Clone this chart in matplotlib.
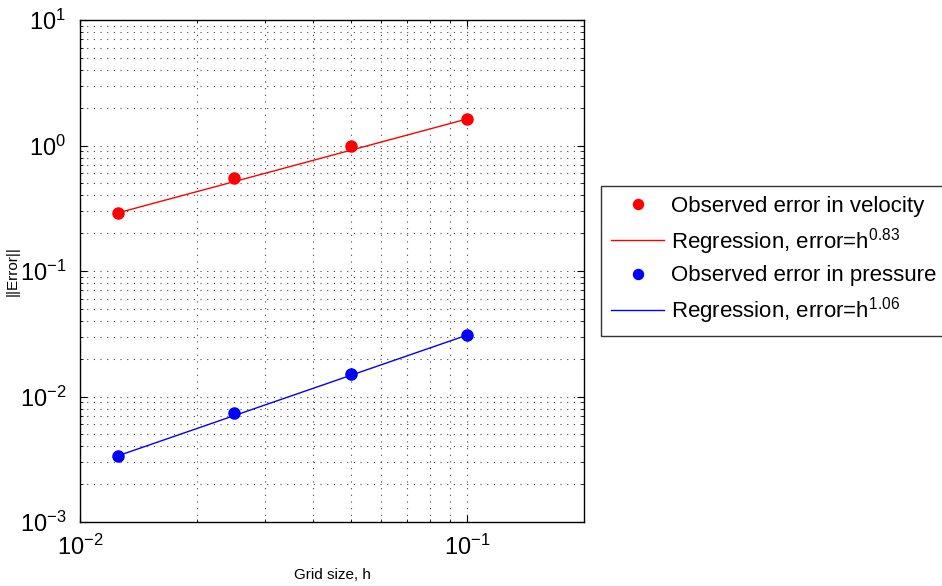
import matplotlib
matplotlib.use("Agg")
import matplotlib.pyplot as plt
from matplotlib.ticker import LogLocator, NullFormatter

plt.rcParams['font.family'] = ['Liberation Sans', 'DejaVu Sans']
plt.rcParams['mathtext.fontset'] = 'custom'
plt.rcParams['mathtext.rm'] = 'Liberation Sans'

h = [0.0125, 0.025, 0.05, 0.1]
err_vel = [0.29, 0.55, 0.99, 1.63]
err_pres = [0.00336, 0.0074, 0.0152, 0.0309]

# regression line end values
reg_h = [0.0125, 0.1]
reg_vel = [0.29, 1.63]
reg_pres = [0.00336, 0.0309]
exp_vel = "0.83"
exp_pres = "1.06"

fig = plt.figure(figsize=(9.42, 5.86), dpi=100)
ax = fig.add_axes([80/942, 64/586, 504/942, 502/586])

ax.plot(h, err_vel, 'o', color='red', markersize=8, label='Observed error in velocity')
ax.plot(reg_h, reg_vel, '-', color='red', linewidth=1, label='Regression, error=h$^{' + exp_vel + '}$')
ax.plot(h, err_pres, 'o', color='blue', markersize=8, label='Observed error in pressure')
ax.plot(reg_h, reg_pres, '-', color='blue', linewidth=1, label='Regression, error=h$^{' + exp_pres + '}$')

ax.set_xscale('log')
ax.set_yscale('log')
ax.set_xlim(0.01, 0.2)
ax.set_ylim(1e-3, 10)
ax.yaxis.set_major_locator(LogLocator(base=10, numticks=10))
ax.yaxis.set_minor_locator(LogLocator(base=10, subs=range(2, 10), numticks=20))
ax.xaxis.set_minor_locator(LogLocator(base=10, subs=range(2, 10), numticks=20))
ax.xaxis.set_minor_formatter(NullFormatter())
ax.yaxis.set_minor_formatter(NullFormatter())

ax.grid(True, which='both', color='#444444', linestyle=(0, (1, 5)), linewidth=0.8)
ax.tick_params(which='both', direction='in', top=True, right=True, labelsize=17)
ax.tick_params(which='major', length=5)
ax.tick_params(which='minor', length=2.5)
ax.tick_params(axis='x', which='major', pad=9)
ax.tick_params(axis='y', which='major', pad=10)
for s in ax.spines.values():
    s.set_linewidth(1.0)

ax.set_xlabel('Grid size, h', fontsize=11, labelpad=6)
ax.set_ylabel('||Error||', fontsize=11, labelpad=0)

leg = ax.legend(loc='center left', bbox_to_anchor=(601/504 - 80/504, 0.52), fontsize=16,
                frameon=True, fancybox=False, edgecolor='black', borderpad=0.45,
                labelspacing=0.4, handlelength=2.4, handletextpad=0.3, borderaxespad=0,
                markerscale=0.9)
leg.get_frame().set_linewidth(1.0)

fig.savefig('out.png', dpi=100)
